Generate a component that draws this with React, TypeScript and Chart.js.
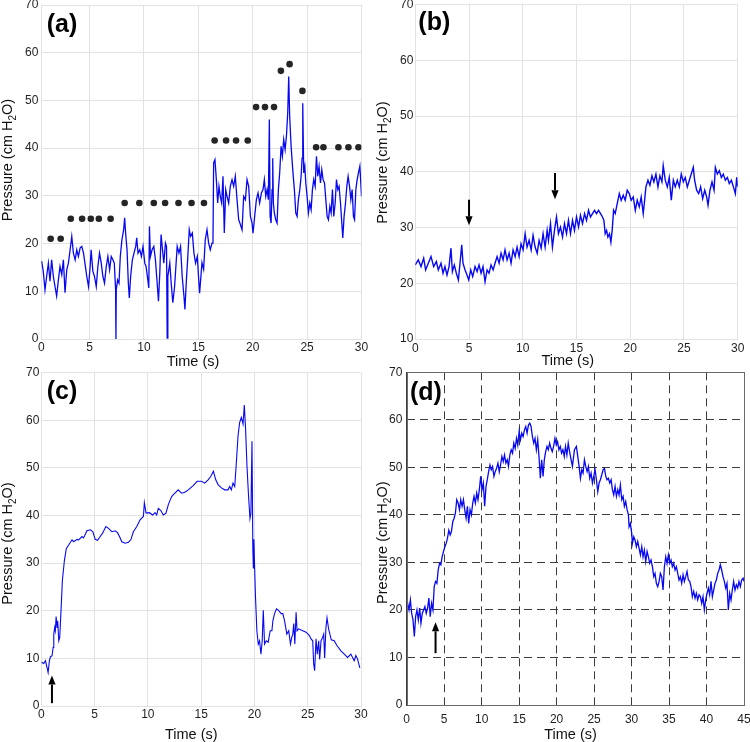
import React, { useEffect, useRef } from "react";
import { Chart, registerables } from "chart.js";

Chart.register(...registerables);

const FONT = "'Liberation Sans', Arial, Helvetica, sans-serif";
Chart.defaults.font.family = FONT;

type Pair = [number, number];
type Arrow = [number, number, number]; // x, yFrom, yTo

// ---------------- Panel (a) ----------------
const pressureA: Pair[] = [
  [0.60,16.3],[0.75,14.2],[0.91,10.3],[1.06,13.1],[1.22,15.9],[1.37,12.1],[1.52,16.6],[1.68,13.1],[1.83,11.0],[1.98,9.0],
  [2.14,12.4],[2.29,15.2],[2.45,13.5],[2.60,16.6],[2.75,9.7],[2.91,14.5],[3.06,15.9],[3.22,18.7],[3.37,21.5],[3.52,18.0],
  [3.68,16.6],[3.83,18.7],[3.98,17.3],[4.14,19.1],[4.29,19.4],[4.45,18.0],[4.60,15.6],[4.75,13.1],[4.91,11.0],[5.06,15.2],
  [5.15,18.7],[5.31,14.2],[5.46,13.1],[5.62,11.0],[5.77,15.2],[5.92,18.0],[6.08,15.9],[6.23,13.1],[6.38,11.7],[6.54,15.2],
  [6.69,17.3],[6.85,14.5],[7.00,17.3],[7.15,16.6],[7.28,15.9],[7.40,10.3],[7.43,0],[7.46,10.3],[7.58,12.4],[7.71,11.7],
  [7.83,17.3],[7.98,20.8],[8.14,22.9],[8.23,25.4],[8.32,22.2],[8.45,18.7],[8.57,11.7],[8.66,8.6],[8.78,13.1],[8.94,16.6],
  [9.09,18.0],[9.25,19.4],[9.34,21.2],[9.46,18.0],[9.62,18.7],[9.77,17.3],[9.92,19.4],[10.08,15.9],[10.20,15.2],[10.32,13.1],
  [10.45,10.7],[10.51,23.6],[10.60,17.3],[10.75,18.7],[10.91,19.4],[11.06,16.6],[11.22,11.7],[11.34,7.9],[11.46,13.8],[11.58,21.9],
  [11.71,18.7],[11.83,15.9],[11.98,20.1],[12.08,19.4],[12.14,0.2],[12.20,13.1],[12.38,15.9],[12.51,11.7],[12.66,7.6],[12.82,11.0],
  [12.94,15.2],[13.06,19.4],[13.22,18.0],[13.37,19.4],[13.52,13.1],[13.68,9.0],[13.77,6.2],[13.89,11.7],[14.02,16.6],[14.17,22.9],
  [14.29,21.5],[14.45,22.2],[14.60,18.0],[14.75,15.9],[14.91,17.3],[15.02,13.1],[15.12,9.6],[15.34,16.0],[15.49,14.6],[15.64,20.8],
  [15.80,22.9],[15.95,20.1],[16.10,18.7],[16.26,20.1],[16.35,20.8],[16.41,36.9],[16.53,37.6],[16.66,33.4],[16.78,28.5],[16.90,32.0],
  [17.02,29.9],[17.15,28.5],[17.27,34.1],[17.39,22.2],[17.52,31.3],[17.64,29.9],[17.79,28.5],[17.94,32.0],[18.10,33.4],[18.25,32.0],
  [18.40,34.1],[18.56,29.2],[18.71,25.0],[18.87,24.0],[19.02,22.9],[19.17,29.9],[19.33,29.2],[19.48,33.4],[19.63,32.0],[19.79,25.7],
  [19.94,24.3],[20.03,22.2],[20.18,25.7],[20.34,29.2],[20.49,30.6],[20.64,28.5],[20.80,30.6],[20.95,31.3],[21.07,33.4],[21.20,29.9],
  [21.32,31.3],[21.44,29.2],[21.53,46.0],[21.60,25.7],[21.69,24.3],[21.78,31.3],[21.84,37.9],[21.90,28.5],[21.99,26.4],[22.12,25.0],
  [22.24,24.3],[22.36,31.3],[22.48,34.8],[22.61,40.4],[22.73,38.3],[22.85,41.8],[22.98,39.7],[23.10,42.5],[23.22,47.4],[23.31,55.0],
  [23.40,46.7],[23.53,40.4],[23.68,35.5],[23.83,31.3],[23.96,26.4],[24.08,25.7],[24.20,29.2],[24.33,31.3],[24.45,34.1],[24.54,37.9],
  [24.60,49.4],[24.69,34.8],[24.79,36.2],[24.88,32.7],[25.00,29.9],[25.12,26.4],[25.25,28.5],[25.37,27.1],[25.49,31.3],[25.61,33.4],
  [25.74,32.0],[25.86,38.3],[25.98,34.1],[26.10,36.2],[26.23,32.7],[26.35,35.5],[26.47,33.4],[26.60,32.7],[26.72,29.2],[26.84,25.7],
  [26.96,25.0],[27.09,27.8],[27.21,26.4],[27.33,31.3],[27.45,25.7],[27.58,28.5],[27.70,33.4],[27.82,31.3],[27.94,32.0],[28.07,28.5],
  [28.19,24.3],[28.28,21.2],[28.40,25.7],[28.53,28.5],[28.65,32.0],[28.77,34.1],[28.90,32.0],[29.02,29.2],[29.14,31.3],[29.26,25.7],
  [29.36,25.0],[29.48,31.3],[29.60,33.4],[29.72,34.8],[29.85,36.2],[29.97,31.3],[30.0,29.9],
];
const dotsA: Pair[] = [
  [1.43,21.0],[2.35,21.0],
  [3.28,25.2],[4.32,25.2],[5.12,25.2],[5.86,25.2],[6.94,25.2],
  [8.23,28.5],[9.58,28.5],[10.91,28.5],[11.95,28.5],[13.18,28.5],[14.38,28.5],[15.52,28.5],
  [16.50,41.6],[17.55,41.6],[18.47,41.6],[19.54,41.6],
  [20.31,48.6],[21.13,48.6],[21.96,48.6],
  [22.59,56.2],[23.39,57.6],[24.57,52.0],
  [25.83,40.2],[26.50,40.2],[27.88,40.2],[28.80,40.2],[29.72,40.2],
];
const xTickValuesA = [0.57, 5, 10, 15, 20, 25, 30];
const xTickLabelsA = ["0", "5", "10", "15", "20", "25", "30"];

// ---------------- Panel (b) ----------------
const pressureB: Pair[] = [
  [0,23.3],[0.28,24.2],[0.53,23.0],[0.78,24.5],[0.96,22.4],[1.21,23.6],[1.46,24.8],[1.71,23.0],[1.96,23.9],[2.14,22.4],
  [2.39,23.6],[2.58,21.8],[2.76,23.0],[2.95,21.5],[3.14,23.0],[3.32,26.3],[3.45,22.1],[3.63,23.3],[3.82,21.8],[4.01,20.6],
  [4.16,23.6],[4.32,26.9],[4.44,23.6],[4.63,22.4],[4.81,21.5],[4.97,20.6],[5.16,22.4],[5.34,21.2],[5.56,23.0],[5.75,22.1],
  [5.93,23.3],[6.12,21.8],[6.30,23.0],[6.49,20.3],[6.68,22.4],[6.86,21.8],[7.05,23.3],[7.24,22.4],[7.42,23.6],[7.61,24.8],
  [7.80,23.6],[7.98,25.4],[8.17,24.2],[8.35,26.0],[8.54,24.2],[8.73,25.4],[8.91,23.6],[9.10,26.0],[9.29,24.8],[9.47,26.5],
  [9.66,24.8],[9.84,27.1],[10.03,26.0],[10.22,28.9],[10.40,26.5],[10.59,27.7],[10.78,26.0],[10.96,28.6],[11.15,26.5],[11.34,25.4],
  [11.52,27.7],[11.71,26.3],[11.89,28.9],[12.08,26.5],[12.27,29.5],[12.39,27.7],[12.58,30.7],[12.76,26.5],[12.95,29.5],[13.14,31.9],
  [13.32,28.9],[13.51,30.1],[13.70,28.3],[13.88,30.7],[14.07,28.9],[14.25,31.3],[14.44,28.9],[14.63,31.3],[14.81,29.5],[15.00,31.9],
  [15.19,30.1],[15.37,32.2],[15.56,30.7],[15.75,32.5],[15.93,31.3],[16.12,33.1],[16.30,31.9],[16.49,32.5],[16.68,33.1],[16.86,32.5],
  [17.05,33.1],[17.24,32.5],[17.42,31.9],[17.55,31.3],[17.67,28.9],[17.80,29.5],[17.92,28.3],[18.07,28.9],[18.20,27.4],[18.32,29.5],
  [18.45,33.1],[18.60,32.5],[18.79,34.3],[18.98,36.1],[19.16,34.9],[19.35,35.8],[19.53,34.9],[19.72,36.7],[19.91,36.1],[20.09,34.9],
  [20.28,35.5],[20.47,33.1],[20.65,34.9],[20.84,33.7],[21.02,35.5],[21.21,32.5],[21.34,34.9],[21.46,37.3],[21.65,38.5],[21.83,37.6],
  [22.02,39.3],[22.20,38.2],[22.39,39.6],[22.58,37.3],[22.76,39.3],[22.95,38.2],[23.07,41.1],[23.26,38.5],[23.45,37.3],[23.63,39.0],
  [23.82,34.9],[24.01,38.5],[24.19,37.3],[24.38,38.5],[24.57,37.3],[24.75,39.6],[24.94,38.2],[25.12,39.0],[25.31,37.3],[25.50,38.5],
  [25.68,39.6],[25.87,40.8],[25.99,38.5],[26.18,36.7],[26.37,36.1],[26.55,37.3],[26.74,35.2],[26.93,36.7],[27.11,35.5],[27.24,34.0],
  [27.42,36.7],[27.61,38.2],[27.80,36.7],[27.92,40.8],[28.11,39.6],[28.29,40.2],[28.48,39.0],[28.66,39.6],[28.85,38.5],[29.04,39.0],
  [29.22,37.9],[29.41,38.5],[29.60,37.3],[29.78,36.1],[29.91,39.0],[30.0,37.3],
];
const arrowsB: Arrow[] = [[5, 35.0, 30.4], [13, 39.8, 35.1]];

// ---------------- Panel (c) ----------------
const pressureC: Pair[] = [
  [0.02,9.0],[0.08,9.15],[0.23,8.94],[0.39,9.5],[0.55,7.96],[0.64,7.04],[0.76,9.5],[0.86,10.35],[1.01,10.56],[1.11,12.3],
  [1.17,15.1],[1.26,16.5],[1.32,15.8],[1.39,18.8],[1.48,16.5],[1.54,17.9],[1.64,13.7],[1.73,14.4],[1.85,20.0],[1.98,26.4],
  [2.17,30.6],[2.35,33.1],[2.57,33.8],[2.88,34.9],[3.04,34.5],[3.35,35.0],[3.50,34.9],[3.82,35.6],[3.97,35.3],[4.28,36.8],
  [4.60,37.0],[4.84,36.6],[5.06,35.0],[5.28,34.8],[5.53,35.6],[5.75,36.3],[6.06,37.7],[6.31,37.3],[6.62,36.6],[6.93,36.8],
  [7.15,36.4],[7.34,35.6],[7.55,34.5],[7.87,34.2],[8.18,34.4],[8.40,34.9],[8.64,36.6],[8.96,37.7],[9.27,39.1],[9.58,39.8],
  [9.67,42.7],[9.83,40.5],[10.14,40.6],[10.45,40.1],[10.67,40.6],[10.83,40.1],[10.98,41.5],[11.20,41.1],[11.45,40.1],[11.70,40.5],
  [11.92,42.3],[12.23,44.0],[12.54,44.7],[12.85,45.4],[13.16,44.7],[13.47,44.9],[13.79,45.4],[14.25,46.3],[14.63,47.2],[15.03,47.2],
  [15.34,46.8],[15.65,47.5],[15.90,48.2],[16.15,49.3],[16.37,47.5],[16.59,46.5],[16.90,45.8],[17.21,45.4],[17.52,45.4],[17.68,46.1],
  [17.83,45.4],[17.99,46.8],[18.15,46.1],[18.30,51.0],[18.46,56.7],[18.61,59.5],[18.77,60.6],[18.93,59.2],[19.05,63.2],[19.17,58.1],
  [19.30,50.4],[19.45,44.0],[19.58,39.4],[19.67,40.5],[19.77,55.6],[19.85,33.0],[19.90,29.0],[19.95,35.0],[20.02,29.0],[20.10,22.9],
  [20.23,15.8],[20.36,13.0],[20.48,13.7],[20.61,10.9],[20.73,13.7],[20.83,20.1],[20.95,13.0],[21.11,13.7],[21.29,13.4],[21.48,15.8],
  [21.64,15.8],[21.73,17.9],[21.89,19.4],[22.07,20.4],[22.26,20.1],[22.51,19.4],[22.66,19.4],[22.82,18.0],[23.04,15.1],[23.22,15.8],
  [23.38,13.0],[23.50,14.4],[23.60,15.1],[23.69,17.3],[23.79,13.0],[23.91,19.7],[24.00,15.8],[24.16,16.2],[24.53,15.8],[24.84,15.5],
  [25.16,14.8],[25.31,14.1],[25.47,13.7],[25.56,8.8],[25.65,7.4],[25.78,14.1],[25.90,10.9],[26.03,13.7],[26.12,9.8],[26.25,13.7],
  [26.40,14.4],[26.50,15.1],[26.59,10.1],[26.71,16.5],[26.81,18.5],[26.96,16.2],[27.21,13.9],[27.49,13.7],[27.74,12.7],[28.12,11.6],
  [28.43,10.9],[28.74,10.2],[29.05,10.9],[29.36,9.5],[29.52,10.6],[29.67,9.9],[29.89,8.0],
];
const arrowsC: Arrow[] = [[1, 0.6, 6.4]];

// ---------------- Panel (d) ----------------
const pressureD: Pair[] = [
  [0.0,20.5],[0.13,21.4],[0.31,20.0],[0.49,22.1],[0.66,19.3],[0.84,17.9],[1.02,14.4],[1.19,18.6],[1.37,20.0],[1.55,17.9],
  [1.73,20.4],[1.90,17.2],[2.08,19.3],[2.26,20.0],[2.43,20.7],[2.61,19.3],[2.79,20.4],[2.96,22.5],[3.14,18.6],[3.32,21.4],
  [3.50,20.0],[3.67,24.9],[3.85,26.0],[4.03,25.6],[4.20,28.4],[4.38,29.8],[4.56,29.5],[4.73,31.2],[4.91,32.3],[5.09,33.3],
  [5.27,34.0],[5.44,35.1],[5.62,36.8],[5.80,35.8],[5.97,36.5],[6.15,38.6],[6.33,39.3],[6.50,40.4],[6.68,43.2],[6.86,42.5],
  [7.04,41.1],[7.21,43.2],[7.39,41.8],[7.57,43.2],[7.74,41.1],[7.92,39.3],[8.10,41.8],[8.27,38.2],[8.45,41.1],[8.63,40.0],
  [8.81,42.5],[8.98,43.9],[9.16,42.5],[9.34,44.6],[9.51,43.2],[9.69,45.3],[9.87,48.1],[10.04,45.3],[10.22,46.7],[10.40,41.8],
  [10.58,46.0],[10.75,47.4],[10.93,49.1],[11.11,50.5],[11.28,49.5],[11.46,50.2],[11.64,48.1],[11.81,49.1],[11.99,49.8],[12.17,50.9],
  [12.35,49.1],[12.52,50.5],[12.70,52.3],[12.88,51.2],[13.05,52.6],[13.23,50.9],[13.41,51.6],[13.58,50.2],[13.76,52.6],[13.94,53.7],
  [14.12,53.0],[14.29,55.1],[14.47,54.0],[14.65,56.1],[14.82,54.7],[15.00,57.5],[15.18,55.8],[15.35,57.2],[15.53,56.5],[15.71,57.9],
  [15.88,58.6],[16.06,57.2],[16.24,58.9],[16.42,59.3],[16.59,58.6],[16.77,56.5],[16.95,55.1],[17.12,56.1],[17.30,53.7],[17.48,55.8],
  [17.65,52.3],[17.83,47.7],[18.01,51.6],[18.19,48.1],[18.36,51.6],[18.54,53.3],[18.72,54.4],[18.89,53.7],[19.07,55.1],[19.25,54.0],
  [19.42,53.3],[19.60,54.4],[19.78,56.1],[19.96,54.7],[20.13,55.4],[20.31,53.7],[20.49,54.4],[20.66,53.0],[20.84,53.7],[21.02,52.3],
  [21.19,54.4],[21.37,52.6],[21.55,55.1],[21.73,53.3],[21.90,51.9],[22.11,50.2],[22.38,53.7],[22.64,54.4],[22.82,52.3],[23.00,50.2],
  [23.18,47.7],[23.36,49.5],[23.53,48.8],[23.71,51.6],[23.89,50.2],[24.07,49.1],[24.24,50.2],[24.42,47.7],[24.60,48.8],[24.78,46.7],
  [24.96,48.1],[25.13,49.5],[25.31,47.4],[25.49,44.9],[25.67,46.7],[25.84,47.4],[26.02,48.4],[26.20,49.5],[26.38,49.8],[26.56,48.1],
  [26.73,47.4],[26.91,47.7],[27.09,46.7],[27.27,47.4],[27.44,45.3],[27.62,44.2],[27.80,46.0],[27.98,43.9],[28.16,45.3],[28.33,44.2],
  [28.51,46.3],[28.69,43.2],[28.87,43.9],[29.04,41.8],[29.22,42.8],[29.40,41.1],[29.58,40.0],[29.67,37.5],[29.84,38.2],[30.02,36.1],
  [30.11,34.0],[30.29,35.4],[30.47,34.7],[30.64,33.3],[30.82,34.4],[31.00,33.0],[31.18,31.6],[31.36,33.3],[31.53,31.2],[31.71,32.6],
  [31.89,30.2],[32.07,32.3],[32.24,31.2],[32.42,29.8],[32.60,30.5],[32.78,29.1],[32.96,27.0],[33.13,27.7],[33.31,25.6],[33.49,24.9],
  [33.67,26.0],[33.84,27.7],[34.02,27.0],[34.20,24.2],[34.38,29.1],[34.56,31.2],[34.73,29.8],[34.91,31.6],[35.09,29.8],[35.27,30.5],
  [35.44,29.1],[35.62,29.8],[35.80,28.4],[35.98,29.1],[36.16,27.7],[36.33,26.3],[36.51,27.0],[36.69,25.6],[36.87,27.4],[37.04,26.0],
  [37.22,27.0],[37.40,28.1],[37.58,26.3],[37.76,26.0],[37.93,24.9],[38.11,22.8],[38.29,23.9],[38.47,22.5],[38.64,23.5],[38.82,22.1],
  [39.00,23.2],[39.18,22.8],[39.36,21.4],[39.53,22.8],[39.71,20.0],[39.89,22.1],[40.07,23.5],[40.24,24.6],[40.42,23.2],[40.60,26.0],
  [40.78,22.8],[40.96,24.2],[41.13,25.6],[41.31,26.3],[41.49,27.7],[41.67,28.4],[41.84,29.5],[42.02,28.4],[42.20,27.0],[42.38,26.0],
  [42.56,24.6],[42.73,25.6],[42.91,20.0],[43.09,23.5],[43.27,22.1],[43.44,24.2],[43.62,26.0],[43.80,24.2],[43.98,25.3],[44.16,24.6],
  [44.33,26.0],[44.51,24.9],[44.69,26.3],[44.87,26.7],[45.0,26.0],
];
const arrowsD: Arrow[] = [[3.85, 10.9, 17.4]];

// ---------------- Shared tick lists ----------------
const xTickValues30 = [0, 5, 10, 15, 20, 25, 30];
const xTickLabels30 = ["0", "5", "10", "15", "20", "25", "30"];
const xTickValues45 = [0, 5, 10, 15, 20, 25, 30, 35, 40, 45];
const xTickLabels45 = ["0", "5", "10", "15", "20", "25", "30", "35", "40", "45"];
const yTickValues0 = [0, 10, 20, 30, 40, 50, 60, 70];
const yTickValues10 = [10, 20, 30, 40, 50, 60, 70];

const LINE_BLUE = "rgb(8,8,240)";
const LIGHT_GRID = "#e2e2e2";
const TICK_COLOR = "#1e1e1e";

interface PanelSpec {
  box: { left: number; top: number; width: number; height: number };
  area: { l: number; r: number; t: number; b: number };
  trace: Pair[];
  lineWidth: number;
  dots?: Pair[];
  arrows?: Arrow[];
  xMin: number;
  xMax: number;
  xTickValues: number[];
  xTickLabels: string[];
  yMin: number;
  yMax: number;
  yTickValues: number[];
  xTickPad: number;
  yTickPad: number;
  dashedBox: boolean;
  tag: string;
  tagPos: [number, number];
  yTitlePos: [number, number];
  xTitlePos: [number, number];
}

const SPECS: PanelSpec[] = [
  {
    box: { left: 0, top: 0, width: 375, height: 371 },
    area: { l: 41.3, r: 361.5, t: 5, b: 339 },
    trace: pressureA, lineWidth: 1.3, dots: dotsA,
    xMin: 0.57, xMax: 30, xTickValues: xTickValuesA, xTickLabels: xTickLabelsA,
    yMin: 0, yMax: 70, yTickValues: yTickValues0,
    xTickPad: 1.5, yTickPad: 3, dashedBox: false,
    tag: "(a)", tagPos: [46.7, 32], yTitlePos: [12, 160], xTitlePos: [193, 366],
  },
  {
    box: { left: 375, top: 0, width: 375, height: 371 },
    area: { l: 415.3, r: 737.7, t: 4.7, b: 339 },
    trace: pressureB, lineWidth: 1.4, arrows: arrowsB,
    xMin: 0, xMax: 30, xTickValues: xTickValues30, xTickLabels: xTickLabels30,
    yMin: 10, yMax: 70, yTickValues: yTickValues10,
    xTickPad: 2, yTickPad: 2, dashedBox: false,
    tag: "(b)", tagPos: [418.3, 30], yTitlePos: [387.3, 162.5], xTitlePos: [567.7, 365],
  },
  {
    box: { left: 0, top: 361, width: 375, height: 381 },
    area: { l: 41.3, r: 361, t: 372.7, b: 706 },
    trace: pressureC, lineWidth: 1.1, arrows: arrowsC,
    xMin: 0, xMax: 30, xTickValues: xTickValues30, xTickLabels: xTickLabels30,
    yMin: 0, yMax: 70, yTickValues: yTickValues0,
    xTickPad: 1, yTickPad: 2, dashedBox: false,
    tag: "(c)", tagPos: [46.7, 399.3], yTitlePos: [12.3, 543.5], xTitlePos: [191.3, 738.7],
  },
  {
    box: { left: 375, top: 361, width: 375, height: 381 },
    area: { l: 406.7, r: 744, t: 372.3, b: 705 },
    trace: pressureD, lineWidth: 1.3, arrows: arrowsD,
    xMin: 0, xMax: 45, xTickValues: xTickValues45, xTickLabels: xTickLabels45,
    yMin: 0, yMax: 70, yTickValues: yTickValues0,
    xTickPad: 7, yTickPad: 4.4, dashedBox: true,
    tag: "(d)", tagPos: [410, 400.3], yTitlePos: [387.3, 542.7], xTitlePos: [570.5, 738.7],
  },
];

function drawYTitle(ctx: CanvasRenderingContext2D, x: number, y: number) {
  const big = `14.5px ${FONT}`;
  const small = `10px ${FONT}`;
  ctx.save();
  ctx.translate(x, y);
  ctx.rotate(-Math.PI / 2);
  ctx.fillStyle = "#111";
  ctx.textAlign = "left";
  ctx.textBaseline = "alphabetic";
  ctx.font = big;
  const w1 = ctx.measureText("Pressure (cm H").width;
  const w3 = ctx.measureText("O)").width;
  ctx.font = small;
  const w2 = ctx.measureText("2").width;
  let sx = -(w1 + w2 + w3) / 2;
  ctx.font = big;
  ctx.fillText("Pressure (cm H", sx, 0);
  sx += w1;
  ctx.font = small;
  ctx.fillText("2", sx, 3.5);
  sx += w2;
  ctx.font = big;
  ctx.fillText("O)", sx, 0);
  ctx.restore();
}

function buildConfig(spec: PanelSpec): any {
  const { box, area } = spec;
  const gridColor = spec.dashedBox ? "#3c3c3c" : LIGHT_GRID;
  const borderCfg = spec.dashedBox
    ? { display: true, color: "#3c3c3c", dash: [8, 5] }
    : { display: true, color: LIGHT_GRID };

  const annot = {
    id: "annot",
    afterDatasetsDraw(chart: any) {
      const ctx: CanvasRenderingContext2D = chart.ctx;
      const xs = chart.scales.x;
      const ys = chart.scales.y;
      (spec.arrows || []).forEach(([ax, yFrom, yTo]) => {
        const px = xs.getPixelForValue(ax);
        const p1 = ys.getPixelForValue(yFrom);
        const p2 = ys.getPixelForValue(yTo);
        const dir = p2 > p1 ? 1 : -1;
        const head = 9;
        ctx.save();
        ctx.strokeStyle = "#000";
        ctx.fillStyle = "#000";
        ctx.lineWidth = 2;
        ctx.beginPath();
        ctx.moveTo(px, p1);
        ctx.lineTo(px, p2 - dir * head);
        ctx.stroke();
        ctx.beginPath();
        ctx.moveTo(px, p2);
        ctx.lineTo(px - 3.6, p2 - dir * head);
        ctx.lineTo(px + 3.6, p2 - dir * head);
        ctx.closePath();
        ctx.fill();
        ctx.restore();
      });
    },
    afterDraw(chart: any) {
      const ctx: CanvasRenderingContext2D = chart.ctx;
      const ca = chart.chartArea;
      if (spec.dashedBox) {
        ctx.save();
        ctx.strokeStyle = "#6a6a6a";
        ctx.lineWidth = 1;
        ctx.strokeRect(Math.round(ca.left) + 0.5, Math.round(ca.top) + 0.5, Math.round(ca.right - ca.left), Math.round(ca.bottom - ca.top));
        ctx.restore();
      }
      ctx.save();
      ctx.fillStyle = "#000";
      ctx.font = `bold 25px ${FONT}`;
      ctx.textAlign = "left";
      ctx.textBaseline = "alphabetic";
      ctx.fillText(spec.tag, spec.tagPos[0] - box.left, spec.tagPos[1] - box.top);
      ctx.font = `14.5px ${FONT}`;
      ctx.fillStyle = "#111";
      ctx.textAlign = "center";
      ctx.fillText("Time (s)", spec.xTitlePos[0] - box.left, spec.xTitlePos[1] - box.top);
      ctx.restore();
      drawYTitle(ctx, spec.yTitlePos[0] - box.left, spec.yTitlePos[1] - box.top);
    },
  };

  const datasets: any[] = [
    {
      data: spec.trace.map(([x, y]) => ({ x, y })),
      borderColor: LINE_BLUE,
      borderWidth: spec.lineWidth,
      pointRadius: 0,
      fill: false,
      tension: 0,
      order: 2,
    },
  ];
  if (spec.dots) {
    datasets.push({
      data: spec.dots.map(([x, y]) => ({ x, y })),
      showLine: false,
      pointRadius: 3.3,
      pointBackgroundColor: "#252525",
      pointBorderColor: "#252525",
      pointBorderWidth: 0,
      borderColor: "#252525",
      order: 1,
    });
  }

  return {
    type: "line",
    data: { datasets },
    options: {
      animation: false,
      responsive: false,
      events: [],
      layout: {
        padding: {
          left: 0,
          top: area.t - box.top,
          right: box.left + box.width - area.r,
          bottom: 0,
        },
      },
      plugins: {
        legend: { display: false },
        tooltip: { enabled: false },
        title: { display: false },
      },
      scales: {
        x: {
          type: "linear",
          min: spec.xMin,
          max: spec.xMax,
          afterBuildTicks: (s: any) => {
            s.ticks = spec.xTickValues.map((v) => ({ value: v }));
          },
          afterFit: (s: any) => {
            s.height = box.top + box.height - area.b;
            s.paddingLeft = 0;
            s.paddingRight = 0;
          },
          ticks: {
            autoSkip: false,
            maxRotation: 0,
            minRotation: 0,
            padding: spec.xTickPad,
            color: TICK_COLOR,
            font: { size: 12, family: FONT },
            callback: (_v: any, i: number) => spec.xTickLabels[i],
          },
          grid: { color: gridColor, drawTicks: false, lineWidth: 1 },
          border: borderCfg,
        },
        y: {
          type: "linear",
          min: spec.yMin,
          max: spec.yMax,
          afterBuildTicks: (s: any) => {
            s.ticks = spec.yTickValues.map((v) => ({ value: v }));
          },
          afterFit: (s: any) => {
            s.width = area.l - box.left;
            s.paddingTop = 0;
            s.paddingBottom = 0;
          },
          ticks: {
            autoSkip: false,
            padding: spec.yTickPad,
            color: TICK_COLOR,
            font: { size: 12, family: FONT },
            callback: (v: any) => String(v),
          },
          grid: { color: gridColor, drawTicks: false, lineWidth: 1 },
          border: borderCfg,
        },
      },
    },
    plugins: [annot],
  };
}

function Panel({ spec }: { spec: PanelSpec }) {
  const ref = useRef<HTMLCanvasElement | null>(null);
  useEffect(() => {
    if (!ref.current) return;
    const chart = new Chart(ref.current, buildConfig(spec));
    return () => chart.destroy();
  }, [spec]);
  return (
    <canvas
      ref={ref}
      width={spec.box.width}
      height={spec.box.height}
      style={{
        position: "absolute",
        left: spec.box.left,
        top: spec.box.top,
        width: spec.box.width,
        height: spec.box.height,
      }}
    />
  );
}

export default function App() {
  return (
    <div
      style={{
        position: "absolute",
        left: 0,
        top: 0,
        width: 750,
        height: 742,
        background: "#ffffff",
        overflow: "hidden",
      }}
    >
      {SPECS.map((s, i) => (
        <Panel key={i} spec={s} />
      ))}
    </div>
  );
}
